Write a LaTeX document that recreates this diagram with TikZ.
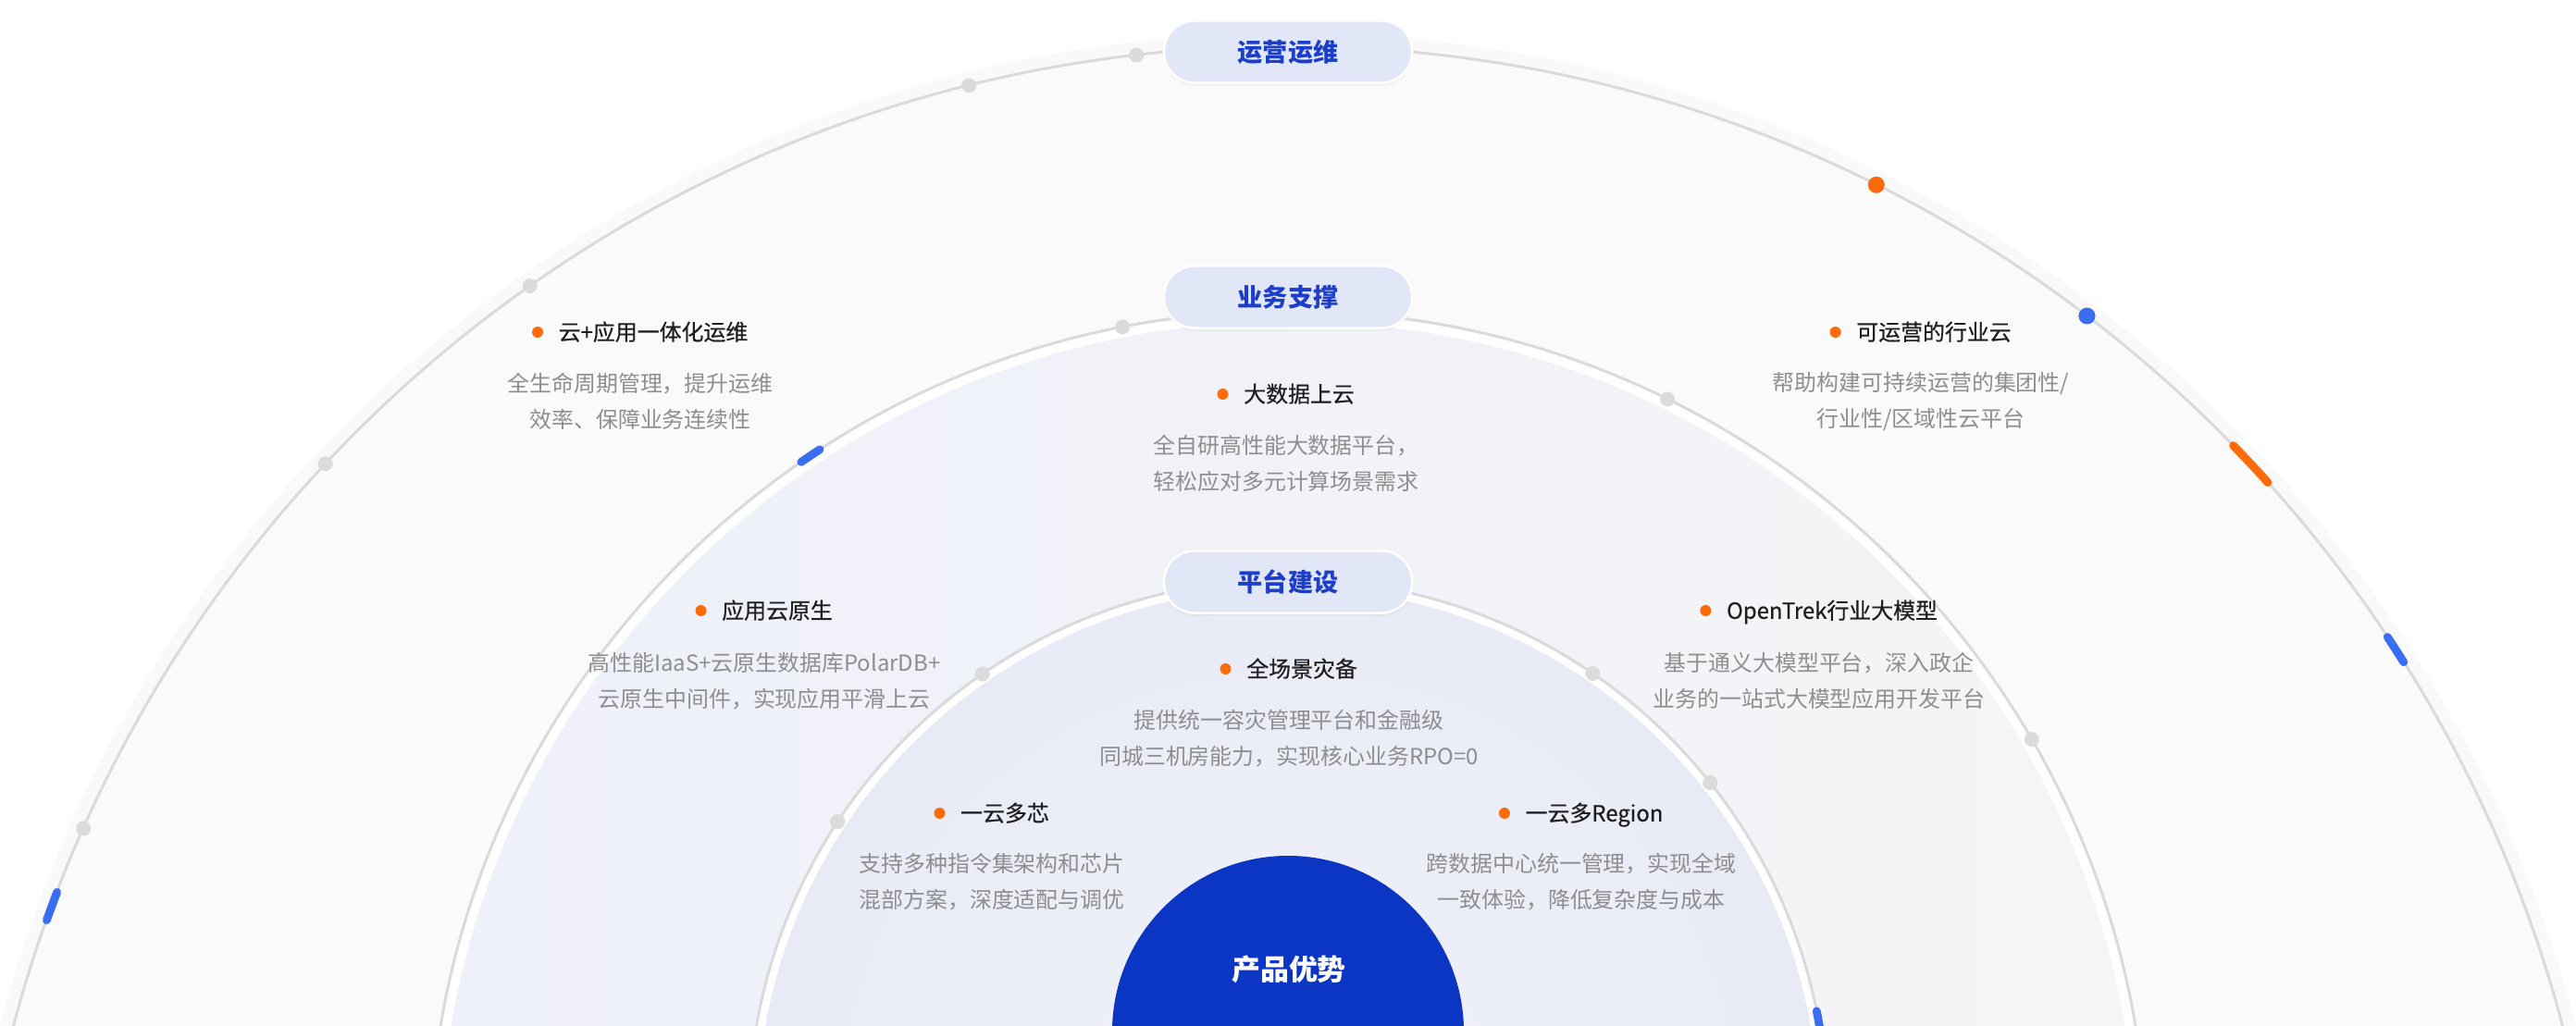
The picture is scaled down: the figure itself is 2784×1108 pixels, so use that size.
\documentclass[tikz,border=0pt]{standalone}
\usepackage{fontspec}
\setmainfont{Noto Sans CJK SC}
\newfontfamily\ttlfont{Noto Sans CJK SC}[FakeBold=0.5]
\usepackage{tikz}
\usetikzlibrary{calc,shadows}
\definecolor{brand}{HTML}{0B36C4}
\definecolor{pillbg}{HTML}{E2E7F8}
\definecolor{pillink}{HTML}{1C3ECB}
\definecolor{ink}{HTML}{1F1F1F}
\definecolor{mute}{HTML}{8E8E8E}
\definecolor{accent}{HTML}{FF6A0A}
\definecolor{azure}{HTML}{3A6DF2}
\definecolor{rim}{HTML}{DADADC}
\definecolor{haze}{HTML}{FAFAFA}
\definecolor{lilac}{HTML}{EEF0FA}
\definecolor{mist}{HTML}{F5F5F6}
\definecolor{veil}{HTML}{F1F2F9}
\definecolor{veiledge}{HTML}{E8EBF6}

\begin{document}
\begin{tikzpicture}[x=0.01cm, y=0.01cm,
  pill/.style={draw=white, line width=0.7pt, fill=pillbg, rounded corners=3.3mm,
    minimum width=26.8mm, minimum height=6.7mm, inner sep=0pt,
    text=pillink, font=\fontsize{7.7}{9}\selectfont\bfseries,
    drop shadow={opacity=0.06, shadow xshift=0pt, shadow yshift=-1pt}},
  ttl/.style={inner sep=0pt, text height=5.8pt, text depth=0.8pt, text=ink,
    font=\fontsize{6.8}{8}\selectfont\ttlfont},
  dsc/.style={inner sep=0pt, align=center, text=mute,
    font=\fontsize{6.8}{11.1}\selectfont},
  bul/.style={fill=accent},
  rimline/.style={draw=rim, line width=0.85pt},
  knob/.style={inner color=white, outer color=black!14},
  tick/.style={line width=2.5pt, line cap=round}]

\path[use as bounding box] (0,0) rectangle (2784,1108);
\clip (0,0) rectangle (2784,1108);
\fill[white] (0,0) rectangle (2784,1108);

\coordinate (oc) at (1392,-367);
\coordinate (mc) at (1392,-157);
\coordinate (ic) at (1392,-101);
\coordinate (cc) at (1392,-7);

% rings
\draw[black, opacity=0.025, line width=4pt] (oc) circle (1432);
\fill[haze] (oc) circle (1425);
\draw[rimline] (oc) circle (1425);

\shade[left color=lilac, right color=mist] (mc) circle (929);
\draw[white, line width=3pt] (mc) circle (923);
\draw[rimline] (mc) circle (929);

\shade[inner color=veil, outer color=veiledge] (ic) circle (583);
\draw[white, line width=2.5pt] (ic) circle (578);
\draw[rimline] (ic) circle (583);

\fill[brand] (cc) circle (190);

% knobs and ticks
\foreach \a in {96.6,104,125.1,136.9,156}
  \shade[knob] (oc) ++(\a:1425) circle (8);
\foreach \a in {63.8,101.1,30.1}
  \shade[knob] (mc) ++(\a:929) circle (8);
\foreach \a in {124.5,146.6,55.6,38.5}
  \shade[knob] (ic) ++(\a:583) circle (8);
\shade[inner color=accent!55!white, outer color=accent] (oc) ++(63.5:1425) circle (9);
\shade[inner color=azure!55!white, outer color=azure] (oc) ++(52.7:1425) circle (9);
\draw[tick, azure] (oc) ++(159:1425) arc[start angle=159, end angle=160.3, radius=1425];
\draw[tick, accent] (oc) ++(42:1425) arc[start angle=42, end angle=44.2, radius=1425];
\draw[tick, azure] (oc) ++(32.2:1425) arc[start angle=32.2, end angle=33.5, radius=1425];
\draw[tick, azure] (mc) ++(123:929) arc[start angle=123, end angle=124.5, radius=929];
\draw[tick, azure] (ic) ++(8.5:583) arc[start angle=8.5, end angle=11.5, radius=583];

% layer pills
\node[pill] (ops) at (1392,1052) {运营运维};
\node[pill] (biz) at (1392,787) {业务支撑};
\node[pill] (plat) at (1392,479) {平台建设};

\node[text=white, font=\fontsize{8.8}{10}\selectfont\bfseries] (core) at (1393,60) {产品优势};

% outer band
\node[ttl] (t1) at (706,749) {云+应用一体化运维};
\fill[bul] ([xshift=-2.2mm]t1.west) circle (6);
\node[dsc] (d1) at (692,674) {全生命周期管理，提升运维\\效率、保障业务连续性};

\node[ttl] (t3) at (2090,749) {可运营的行业云};
\fill[bul] ([xshift=-2.2mm]t3.west) circle (6);
\node[dsc] (d3) at (2076,674) {帮助构建可持续运营的集团性/\\行业性/区域性云平台};

% middle band
\node[ttl] (t2) at (1404,682) {大数据上云};
\fill[bul] ([xshift=-2.2mm]t2.west) circle (6);
\node[dsc] (d2) at (1390,607) {全自研高性能大数据平台，\\轻松应对多元计算场景需求};

\node[ttl] (t4) at (840,448) {应用云原生};
\fill[bul] ([xshift=-2.2mm]t4.west) circle (6);
\node[dsc] (d4) at (826,372) {高性能IaaS+云原生数据库PolarDB+\\云原生中间件，实现应用平滑上云};

\node[ttl] (t6) at (1980,448) {OpenTrek行业大模型};
\fill[bul] ([xshift=-2.2mm]t6.west) circle (6);
\node[dsc] (d6) at (1966,372) {基于通义大模型平台，深入政企\\业务的一站式大模型应用开发平台};

% inner band
\node[ttl] (t5) at (1407,385) {全场景灾备};
\fill[bul] ([xshift=-2.2mm]t5.west) circle (6);
\node[dsc] (d5) at (1393,310) {提供统一容灾管理平台和金融级\\同城三机房能力，实现核心业务RPO=0};

\node[ttl] (t7) at (1086,229) {一云多芯};
\fill[bul] ([xshift=-2.2mm]t7.west) circle (6);
\node[dsc] (d7) at (1072,155) {支持多种指令集架构和芯片\\混部方案，深度适配与调优};

\node[ttl] (t8) at (1723,229) {一云多Region};
\fill[bul] ([xshift=-2.2mm]t8.west) circle (6);
\node[dsc] (d8) at (1709,155) {跨数据中心统一管理，实现全域\\一致体验，降低复杂度与成本};
\end{tikzpicture}
\end{document}
